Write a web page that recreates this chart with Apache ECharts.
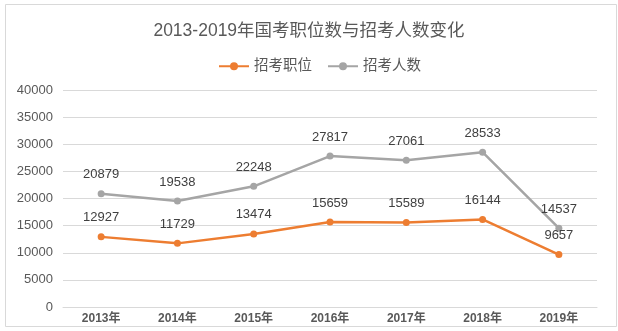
<!DOCTYPE html>
<html>
<head>
<meta charset="utf-8">
<style>
  html, body { margin: 0; padding: 0; background: #fff; }
  #chart { width: 618px; height: 331px; }
</style>
<script src="https://cdn.jsdelivr.net/npm/echarts@6/dist/echarts.min.js"></script>
</head>
<body>
<div id="chart"></div>
<script>
const years = ['2013年', '2014年', '2015年', '2016年', '2017年', '2018年', '2019年'];
const positions = [12927, 11729, 13474, 15659, 15589, 16144, 9657];
const applicants = [20879, 19538, 22248, 27817, 27061, 28533, 14537];
const yTicks = [0, 5000, 10000, 15000, 20000, 25000, 30000, 35000, 40000];

const FONT = '"Liberation Sans", "Noto Sans CJK SC", sans-serif';
const chart = echarts.init(document.getElementById('chart'), null, { renderer: 'canvas' });

chart.setOption({
  backgroundColor: '#ffffff',
  animation: false,
  graphic: [{
    type: 'rect',
    shape: { x: 5.5, y: 4.5, width: 611, height: 322 },
    style: { fill: 'none', stroke: '#d9d9d9', lineWidth: 1 },
    silent: true
  }],
  title: {
    text: '2013-2019年国考职位数与招考人数变化',
    left: 'center',
    top: 17,
    textStyle: { fontFamily: FONT, fontSize: 17.5, fontWeight: 'normal', color: '#595959' }
  },
  legend: {
    top: 54,
    left: 213,
    itemWidth: 30,
    itemHeight: 10,
    itemGap: 15,
    textStyle: { fontFamily: FONT, fontSize: 14.5, color: '#595959' },
    data: ['招考职位', '招考人数']
  },
  grid: { left: 63, right: 21, top: 90, bottom: 24, containLabel: false },
  xAxis: {
    type: 'category',
    data: years,
    boundaryGap: true,
    axisLine: { show: true, lineStyle: { color: '#d9d9d9' } },
    axisTick: { show: false },
    axisLabel: { fontFamily: FONT, fontSize: 12, fontWeight: 'bold', color: '#595959', margin: 6 }
  },
  yAxis: {
    type: 'value',
    min: yTicks[0],
    max: yTicks[yTicks.length - 1],
    interval: yTicks[1] - yTicks[0],
    axisLine: { show: false },
    axisTick: { show: false },
    splitLine: { lineStyle: { color: '#d9d9d9' } },
    axisLabel: { fontFamily: FONT, fontSize: 13, color: '#595959', margin: 10, formatter: (v) => String(v) }
  },
  series: [
    {
      name: '招考职位',
      type: 'line',
      data: positions,
      symbol: 'circle',
      symbolSize: 7,
      lineStyle: { color: '#ED7D31', width: 2.5 },
      itemStyle: { color: '#ED7D31' },
      label: { show: true, position: 'top', distance: 9, fontFamily: FONT, fontSize: 13, color: '#404040' }
    },
    {
      name: '招考人数',
      type: 'line',
      data: applicants,
      symbol: 'circle',
      symbolSize: 7,
      lineStyle: { color: '#A5A5A5', width: 2.5 },
      itemStyle: { color: '#A5A5A5' },
      label: { show: true, position: 'top', distance: 9, fontFamily: FONT, fontSize: 13, color: '#404040' }
    }
  ]
});
</script>
</body>
</html>
